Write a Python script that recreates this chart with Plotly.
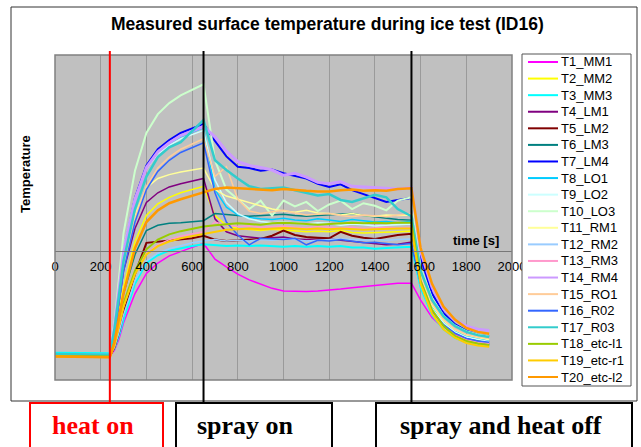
import plotly.graph_objects as go

# ---------------- data ----------------
time_s = [0, 240, 260, 280, 300, 350, 400, 450, 500, 550, 600, 650,
          700, 750, 800, 850, 900, 950, 1000, 1050, 1100, 1150, 1200, 1250,
          1300, 1350, 1400, 1450, 1500, 1560,
          1600, 1650, 1700, 1750, 1800, 1850, 1900]

series_names = ["T1_MM1", "T2_MM2", "T3_MM3", "T4_LM1", "T5_LM2", "T6_LM3", "T7_LM4",
                "T8_LO1", "T9_LO2", "T10_LO3", "T11_RM1", "T12_RM2", "T13_RM3", "T14_RM4",
                "T15_RO1", "T16_R02", "T17_R03", "T18_etc-l1", "T19_etc-r1", "T20_etc-l2"]

T1 = [-16.0, -16.1, -15.2, -13.5, -11.0, -6.5, -3.4, -1.8, -0.7, 0.0, 0.6, 1.2,
      -1.2, -2.4, -3.5, -4.4, -5.1, -5.7, -6.1, -6.2, -6.2, -6.1, -6.0, -5.8,
      -5.6, -5.4, -5.2, -5.0, -4.9, -4.9,
      -7.5, -10.2, -11.8, -12.8, -13.4, -13.7, -13.9]
T2 = [-16.1, -16.2, -13.5, -9.5, -5.5, 1.5, 5.5, 7.3, 8.3, 9.0, 9.5, 10.0,
      5.5, 4.0, 3.5, 3.3, 3.2, 3.4, 3.3, 3.1, 3.0, 3.1, 3.0, 3.2,
      2.9, 2.8, 2.9, 3.0, 3.0, 3.1,
      -4.8, -9.5, -11.8, -13.2, -14.0, -14.4, -14.6]
T3 = [-15.6, -15.7, -15.0, -13.0, -10.5, -5.0, -1.8, -0.6, 0.1, 0.5, 0.8, 1.1,
      0.9, 0.8, 0.9, 0.8, 0.9, 0.8, 0.7, 0.8, 0.7, 0.8, 0.7, 0.8,
      0.6, 0.6, 0.4, 0.5, 0.6, 0.7,
      -5.6, -9.8, -12.0, -13.3, -14.0, -14.3, -14.5]
T4 = [-16.0, -16.1, -12.8, -8.0, -3.0, 3.5, 7.5, 9.0, 9.9, 10.4, 10.8, 11.2,
      5.0, 3.0, 2.4, 2.2, 2.0, 2.1, 2.2, 1.9, 1.8, 1.9, 1.9, 1.7,
      1.5, 1.3, 1.2, 1.0, 1.1, 1.4,
      -5.0, -9.4, -11.7, -13.0, -13.8, -14.2, -14.4]
T5 = [-16.0, -16.1, -14.8, -12.5, -9.5, -3.5, 1.3, 1.5, 1.7, 1.9, 2.0, 2.4,
      1.8, 1.6, 1.7, 1.8, 1.9, 2.4, 3.2, 2.5, 2.2, 2.1, 2.0, 3.0,
      2.4, 2.1, 1.9, 2.2, 2.5, 2.7,
      -4.8, -9.3, -11.6, -13.0, -13.7, -14.1, -14.3]
T6 = [-16.0, -16.0, -13.5, -10.0, -6.5, -0.5, 3.2, 4.0, 4.3, 4.4, 4.5, 4.7,
      5.8, 5.6, 5.5, 5.4, 5.5, 5.6, 5.7, 5.5, 5.4, 5.5, 5.6, 5.7,
      5.8, 5.5, 5.3, 5.1, 4.9, 4.8,
      -4.0, -8.6, -11.0, -12.5, -13.3, -13.7, -13.9]
T7 = [-15.9, -16.0, -11.7, -6.0, 0.0, 8.2, 13.2, 15.7, 17.1, 18.2, 18.9, 19.6,
      17.0, 14.6, 13.0, 12.8, 12.4, 12.6, 12.0, 11.6, 11.2, 10.4, 9.9, 10.3,
      9.4, 8.8, 8.2, 7.6, 7.9, 8.2,
      -1.0, -6.5, -9.5, -11.2, -12.2, -12.8, -13.1]
T8 = [-15.8, -15.9, -11.5, -5.8, 0.2, 8.0, 12.8, 15.3, 16.6, 17.6, 18.3, 19.0,
      9.5, 6.8, 5.6, 5.2, 5.0, 4.9, 5.1, 4.8, 4.7, 5.0, 4.8, 4.6,
      4.9, 4.7, 4.5, 4.6, 4.4, 4.6,
      -4.0, -8.5, -10.8, -12.2, -13.0, -13.5, -13.7]
T9 = [-15.8, -15.9, -11.0, -5.5, 0.5, 8.2, 12.7, 15.0, 16.3, 17.3, 17.9, 18.6,
      11.0, 7.5, 5.8, 5.0, 4.6, 4.4, 4.5, 4.3, 4.2, 4.4, 4.3, 4.0,
      4.2, 4.1, 3.9, 4.0, 4.1, 4.2,
      -4.5, -8.8, -11.0, -12.4, -13.2, -13.6, -13.9]
T10 = [-15.9, -16.0, -11.0, -4.3, 2.8, 12.4, 18.2, 21.1, 22.8, 24.0, 24.9, 25.7,
       14.0, 9.5, 8.0, 6.5, 7.8, 5.5, 7.8, 6.9, 7.6, 6.2, 7.2, 7.8,
       6.5, 7.4, 7.0, 6.3, 7.8, 8.3,
       -2.5, -7.2, -9.9, -11.4, -12.3, -12.8, -13.1]
T11 = [-16.0, -16.1, -12.0, -6.5, -1.5, 5.5, 9.8, 11.2, 11.8, 12.2, 12.5, 12.8,
       9.5, 8.5, 8.0, 7.5, 7.0, 6.5, 6.2, 6.0, 6.3, 5.9, 5.8, 5.6,
       5.8, 5.5, 5.4, 5.6, 5.5, 5.6,
       -3.8, -8.3, -10.7, -12.1, -12.9, -13.3, -13.6]
T12 = [-16.0, -16.0, -14.8, -12.5, -9.8, -4.5, -1.5, -0.3, 0.4, 0.9, 1.3, 1.6,
       1.8, 1.6, 1.7, 1.6, 1.8, 1.7, 1.9, 1.8, 1.6, 1.7, 1.8, 1.9,
       1.8, 1.7, 1.8, 1.7, 1.8, 1.9,
       -5.2, -9.5, -11.8, -13.1, -13.8, -14.2, -14.4]
T13 = [-16.1, -16.1, -14.5, -11.5, -8.5, -3.3, -0.3, 1.0, 1.8, 2.3, 2.7, 3.0,
       4.5, 4.0, 3.8, 3.9, 3.7, 3.8, 3.9, 3.7, 3.6, 3.8, 3.7, 3.6,
       3.7, 3.5, 3.6, 3.7, 3.6, 3.7,
       -4.2, -9.0, -11.5, -12.9, -13.6, -14.0, -14.2]
T14 = [-15.9, -16.0, -11.8, -6.2, -0.2, 7.9, 12.9, 15.3, 16.7, 17.8, 18.5, 19.2,
       17.6, 15.4, 13.8, 13.2, 12.9, 12.5, 11.7, 12.0, 11.4, 10.6, 10.4, 10.7,
       10.0, 9.9, 9.8, 9.6, 9.6, 9.8,
       0.0, -5.5, -8.8, -10.6, -11.5, -12.0, -12.2]
T15 = [-16.0, -16.0, -12.5, -7.5, -2.5, 5.0, 10.0, 12.8, 14.5, 15.7, 16.5, 17.3,
       11.5, 13.0, 8.0, 6.2, 5.8, 6.0, 6.3, 5.9, 5.6, 5.7, 5.8, 5.5,
       5.3, 5.6, 5.5, 5.3, 5.6, 5.8,
       -3.5, -8.0, -10.5, -12.0, -12.8, -13.2, -13.4]
T16 = [-16.0, -16.1, -12.5, -8.0, -3.0, 4.5, 9.5, 12.3, 14.0, 15.2, 16.0, 16.7,
       9.0, 4.5, 2.5, 1.0, 2.0, 1.9, 1.8, 2.0, 1.0, 1.7, 1.6, 1.8,
       1.5, 1.3, 1.4, 1.2, 1.0, 1.2,
       -5.0, -9.2, -11.3, -12.6, -13.4, -13.8, -14.0]
T17 = [-15.8, -15.9, -12.0, -7.0, -1.5, 6.5, 11.5, 14.5, 16.0, 16.8, 18.5, 20.2,
       14.0, 12.5, 11.2, 10.0, 9.6, 9.7, 9.8, 9.4, 9.0, 8.6, 8.8, 7.9,
       7.6, 8.2, 8.7, 8.3, 6.5, 5.4,
       -3.0, -7.5, -10.0, -11.5, -12.4, -12.9, -13.2]
T18 = [-16.1, -16.2, -14.0, -11.0, -8.0, -3.0, 0.3, 1.8, 2.6, 3.1, 3.5, 3.8,
       4.0, 4.2, 4.3, 4.2, 4.1, 4.3, 4.4, 4.3, 4.2, 4.1, 4.2, 4.3,
       4.4, 4.3, 4.4, 4.3, 4.4, 4.4,
       -4.5, -9.0, -11.5, -13.0, -13.8, -14.2, -14.4]
T19 = [-16.2, -16.3, -14.5, -11.5, -8.5, -3.5, -0.5, 0.8, 1.5, 2.0, 2.3, 2.6,
       3.0, 3.3, 3.4, 3.5, 3.4, 3.5, 3.6, 3.5, 3.4, 3.5, 3.4, 3.5,
       3.4, 3.3, 3.4, 3.5, 3.5, 3.5,
       -5.0, -9.6, -12.0, -13.3, -14.1, -14.5, -14.7]
T20 = [-16.2, -16.3, -14.0, -10.5, -6.5, 0.5, 4.5, 6.3, 7.4, 8.0, 8.5, 9.0,
       9.6, 9.8, 9.7, 9.6, 9.5, 9.4, 9.6, 9.4, 9.3, 9.2, 9.2, 9.4,
       9.5, 9.3, 9.4, 9.3, 9.6, 9.7,
       0.5, -5.0, -8.5, -10.5, -11.8, -12.4, -12.7]

series_values = [T1, T2, T3, T4, T5, T6, T7, T8, T9, T10,
                 T11, T12, T13, T14, T15, T16, T17, T18, T19, T20]

event_times = [240, 650, 1560]
event_labels = ["heat on", "spray on", "spray and heat off"]
x_ticks = [0, 200, 400, 600, 800, 1000, 1200, 1400, 1600, 1800, 2000]

# ---------------- styles ----------------
colors = ["#FF00FF", "#FFFF00", "#00FFFF", "#800080", "#800000", "#008080", "#0000FF",
          "#00CCFF", "#CCFFFF", "#CCFFCC", "#FFFF99", "#99CCFF", "#FF99CC", "#CC99FF",
          "#FFCC99", "#3366FF", "#33CCCC", "#99CC00", "#FFCC00", "#FF9900"]
widths = [1.5, 1.5, 2, 1.5, 2, 1.5, 2, 1.5, 1.5, 2,
          1.5, 1.5, 1.5, 3, 1.5, 1.5, 2.5, 2, 2, 2.5]

W, H = 641, 447
L, R, TOP, BOT = 55, 512, 55, 380   # plot area in pixels


def pxx(px):
    return (px - L) / (R - L)


def pxy(py):
    return (BOT - py) / (BOT - TOP)


fig = go.Figure()
for name, vals, c, w in zip(series_names, series_values, colors, widths):
    fig.add_trace(go.Scatter(x=time_s, y=vals, name=name, mode="lines",
                             line=dict(color=c, width=w)))

ymin, ymax = -19.8, 30.2
font_main = "Liberation Sans, Arial, sans-serif"

fig.update_layout(
    width=W, height=H,
    margin=dict(l=L, r=W - R, t=TOP, b=H - BOT, pad=0),
    paper_bgcolor="white",
    plot_bgcolor="#C0C0C0",
    font=dict(family=font_main, size=13, color="black"),
    showlegend=False,
    xaxis=dict(range=[0, 2000], tickvals=x_ticks, ticktext=[str(v) for v in x_ticks],
               showgrid=True, gridcolor="#9A9A9A", gridwidth=1,
               zeroline=False, showline=True, linecolor="#777777", linewidth=1,
               anchor="free", position=(0 - ymin) / (ymax - ymin),
               ticks="", ticklabelstandoff=3,
               tickfont=dict(family=font_main, size=13, color="black")),
    yaxis=dict(range=[ymin, ymax], showticklabels=False, showgrid=False,
               zeroline=False, showline=False, ticks=""),
)

shapes = []
# plot area border
shapes.append(dict(type="rect", xref="paper", yref="paper", x0=0, x1=1, y0=0, y1=1,
                   line=dict(color="#808080", width=1.5), layer="above"))
# outer chart frame
shapes.append(dict(type="rect", xref="paper", yref="paper",
                   x0=pxx(11), x1=pxx(637), y0=pxy(401), y1=pxy(7),
                   line=dict(color="#333333", width=1)))
# event lines
event_colors = ["#FF0000", "#000000", "#000000"]
for t, c in zip(event_times, event_colors):
    shapes.append(dict(type="line", xref="x", yref="paper", x0=t, x1=t,
                       y0=pxy(51), y1=pxy(403), line=dict(color=c, width=2), layer="above"))
# label boxes
box_px = [(30, 163), (176, 332), (376, 632)]
for (x0, x1), c in zip(box_px, event_colors):
    shapes.append(dict(type="rect", xref="paper", yref="paper",
                       x0=pxx(x0), x1=pxx(x1), y0=pxy(452), y1=pxy(403),
                       line=dict(color=c, width=2)))

# legend box (drawn by hand so that the entries keep the reference's spacing)
leg_x0, leg_x1, leg_y0, leg_y1 = 522, 631, 54, 386
shapes.append(dict(type="rect", xref="paper", yref="paper",
                   x0=pxx(leg_x0), x1=pxx(leg_x1), y0=pxy(leg_y1), y1=pxy(leg_y0),
                   line=dict(color="#555555", width=1), fillcolor="white", layer="above"))
ann = []
row_h = 16.58
for i, (name, c) in enumerate(zip(series_names, colors)):
    yy = 62 + i * row_h
    shapes.append(dict(type="line", xref="paper", yref="paper",
                       x0=pxx(528), x1=pxx(558), y0=pxy(yy), y1=pxy(yy),
                       line=dict(color=c, width=2), layer="above"))
    ann.append(dict(text=name, xref="paper", yref="paper", x=pxx(559), y=pxy(yy),
                    xanchor="left", yanchor="middle", showarrow=False,
                    font=dict(family=font_main, size=13, color="black")))
fig.update_layout(shapes=shapes)

ann.append(dict(text="<b>Measured surface temperature during ice test (ID16)</b>",
                xref="paper", yref="paper", x=pxx(327), y=pxy(24),
                xanchor="center", yanchor="middle", showarrow=False,
                font=dict(family=font_main, size=17.5, color="black")))
ann.append(dict(text="<b>time [s]</b>", xref="paper", yref="paper", x=pxx(476), y=pxy(240),
                xanchor="center", yanchor="middle", showarrow=False,
                font=dict(family=font_main, size=13, color="black")))
ann.append(dict(text="<b>Temperature</b>", xref="paper", yref="paper", x=pxx(25), y=pxy(174),
                xanchor="center", yanchor="middle", showarrow=False, textangle=-90,
                font=dict(family=font_main, size=13, color="black")))
label_cx = [93, 245, 501]
for lab, cx, c in zip(event_labels, label_cx, event_colors):
    ann.append(dict(text="<b>" + lab + "</b>", xref="paper", yref="paper",
                    x=pxx(cx), y=pxy(425), xanchor="center", yanchor="middle",
                    showarrow=False,
                    font=dict(family="Liberation Serif, Times New Roman, serif", size=26, color=c)))
fig.update_layout(annotations=ann)

fig.write_html("out.html")
